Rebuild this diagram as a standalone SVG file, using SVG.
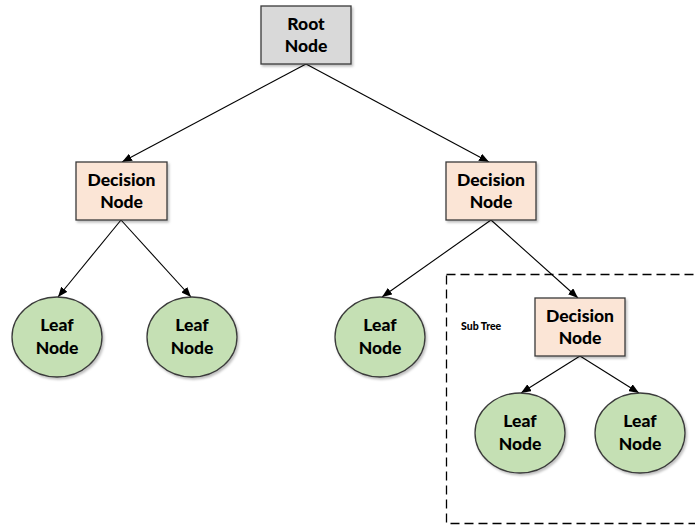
<svg xmlns="http://www.w3.org/2000/svg" width="695" height="528" viewBox="0 0 695 528">
<defs>
<marker id="ah" markerWidth="10" markerHeight="8" refX="10" refY="4" orient="auto" markerUnits="userSpaceOnUse">
<path d="M0,0 L10,4 L0,8 z" fill="#000"/>
</marker>
<filter id="sh" x="-10%" y="-10%" width="130%" height="130%">
<feDropShadow dx="1.5" dy="2" stdDeviation="1.2" flood-color="#000" flood-opacity="0.25"/>
</filter>
</defs>
<style>
.box{stroke:#3a3a3a;stroke-width:1.3;filter:url(#sh)}
.root{fill:#d9d9d9}
.dec{fill:#fbe5d6}
.leaf{fill:#c5e0b4;stroke:#3a3a3a;stroke-width:1.3;filter:url(#sh)}
.t{font-family:Lato,"Open Sans","Liberation Sans",sans-serif;font-weight:900;font-size:17.5px;fill:#000;text-anchor:middle}
.s{font-family:Lato,"Liberation Sans",sans-serif;font-weight:900;font-size:10.5px;fill:#000}
.c line{stroke:#000;stroke-width:1.1;marker-end:url(#ah)}
</style>
<rect x="446.5" y="274.5" width="260" height="249" fill="none" stroke="#000" stroke-width="1.3" stroke-dasharray="9,5"/>
<text class="s" x="461" y="330">Sub Tree</text>
<g class="c" id="connectors">
<line x1="306" y1="64" x2="122" y2="162"/>
<line x1="306" y1="64" x2="489" y2="162"/>
<line x1="121" y1="220" x2="58" y2="297"/>
<line x1="121" y1="220" x2="191" y2="297"/>
<line x1="491" y1="220" x2="382" y2="297"/>
<line x1="491" y1="220" x2="578" y2="298"/>
<line x1="580" y1="356" x2="521" y2="393"/>
<line x1="580" y1="356" x2="639" y2="393"/>
</g>
<g id="root">
<rect class="box root" x="261" y="6" width="90" height="58"/>
<text class="t" x="306" y="30">Root</text>
<text class="t" x="306" y="52">Node</text>
</g>
<g id="dec1">
<rect class="box dec" x="76" y="162" width="91" height="58"/>
<text class="t" x="121.5" y="186">Decision</text>
<text class="t" x="121.5" y="208">Node</text>
</g>
<g id="dec2">
<rect class="box dec" x="446" y="162" width="90" height="58"/>
<text class="t" x="491" y="186">Decision</text>
<text class="t" x="491" y="208">Node</text>
</g>
<g id="dec3">
<rect class="box dec" x="535" y="298" width="90" height="58"/>
<text class="t" x="580" y="322">Decision</text>
<text class="t" x="580" y="344">Node</text>
</g>
<g id="leaf1">
<ellipse class="leaf" cx="57" cy="337" rx="45" ry="40"/>
<text class="t" x="57" y="331">Leaf</text>
<text class="t" x="57" y="354">Node</text>
</g>
<g id="leaf2">
<ellipse class="leaf" cx="192" cy="337" rx="45" ry="40"/>
<text class="t" x="192" y="331">Leaf</text>
<text class="t" x="192" y="354">Node</text>
</g>
<g id="leaf3">
<ellipse class="leaf" cx="380" cy="337" rx="45" ry="40"/>
<text class="t" x="380" y="331">Leaf</text>
<text class="t" x="380" y="354">Node</text>
</g>
<g id="leaf4">
<ellipse class="leaf" cx="520" cy="433" rx="45" ry="40"/>
<text class="t" x="520" y="427">Leaf</text>
<text class="t" x="520" y="450">Node</text>
</g>
<g id="leaf5">
<ellipse class="leaf" cx="640" cy="433" rx="45" ry="40"/>
<text class="t" x="640" y="427">Leaf</text>
<text class="t" x="640" y="450">Node</text>
</g>
</svg>
